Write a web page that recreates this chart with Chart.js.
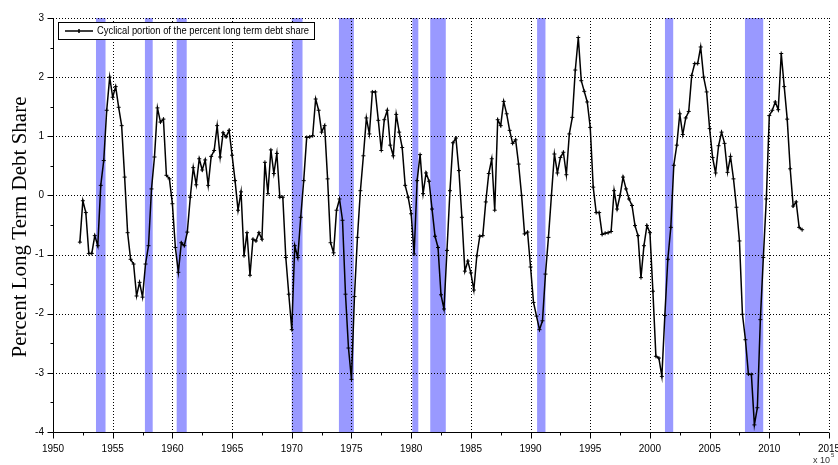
<!DOCTYPE html>
<html>
<head>
<meta charset="utf-8">
<script src="https://cdn.jsdelivr.net/npm/chart.js@4/dist/chart.umd.min.js"></script>
<style>
  html, body { margin: 0; padding: 0; background: #fff; }
  #chart { display: block; }
</style>
</head>
<body>
<canvas id="chart" width="838" height="465"></canvas>
<script>
// quarterly observations, first one is 1952 Q2
const startYear = 1952.25;
const debtShare = [
  -0.79, -0.09, -0.29,                 // 1952
  -0.98, -0.98, -0.68, -0.85,          // 1953
   0.17,  0.59,  1.44,  2.00,          // 1954
   1.66,  1.84,  1.49,  1.18,          // 1955
   0.31, -0.63, -1.08, -1.16,          // 1956
  -1.70, -1.47, -1.72, -1.16,          // 1957
  -0.85,  0.11,  0.65,  1.48,          // 1958
   1.24,  1.29,  0.34,  0.28,          // 1959
  -0.14, -0.88, -1.30, -0.80,          // 1960
  -0.85, -0.62, -0.03,  0.47,          // 1961
   0.18,  0.62,  0.43,  0.60,          // 1962
   0.17,  0.66,  0.76,  1.18,          // 1963
   0.65,  1.06,  0.99,  1.10,          // 1964
   0.68,  0.25, -0.25,  0.06,          // 1965
  -1.02, -0.63, -1.35, -0.74,          // 1966
  -0.77, -0.63, -0.74,  0.56,          // 1967
   0.03,  0.77,  0.37,  0.71,          // 1968
  -0.03, -0.03, -1.05, -1.67,          // 1969
  -2.27, -0.85, -1.05, -0.37,          // 1970
   0.25,  0.98,  0.99,  1.01,          // 1971
   1.63,  1.44,  1.07,  1.18,          // 1972
   0.28, -0.80, -0.97, -0.25,          // 1973
  -0.06, -0.42, -1.67, -2.58,          // 1974
  -3.11, -1.71, -0.71,  0.08,          // 1975
   0.67,  1.31,  1.04,  1.75,          // 1976
   1.75,  1.27,  0.76,  1.28,          // 1977
   1.44,  0.85,  0.67,  1.37,          // 1978
   1.07,  0.81,  0.17, -0.03,          // 1979
  -0.31, -0.99,  0.25,  0.69,          // 1980
   0.03,  0.38,  0.24, -0.23,          // 1981
  -0.69, -0.88, -1.68, -1.92,          // 1982
  -0.93,  0.08,  0.89,  0.97,          // 1983
   0.42, -0.37, -1.28, -1.11,          // 1984
  -1.31, -1.60, -1.02, -0.69,          // 1985
  -0.68, -0.11,  0.37,  0.62,          // 1986
  -0.25,  1.28,  1.18,  1.59,          // 1987
   1.38,  1.10,  0.88,  0.94,          // 1988
   0.53,  0.00, -0.65, -0.62,          // 1989
  -1.21, -1.81, -2.04, -2.27,          // 1990
  -2.12, -1.33, -0.71,  0.00,          // 1991
   0.70,  0.38,  0.64,  0.73,          // 1992
   0.35,  1.04,  1.32,  2.12,          // 1993
   2.67,  1.94,  1.76,  1.58,          // 1994
   1.15,  0.14, -0.29, -0.29,          // 1995
  -0.66, -0.64, -0.63, -0.61,          // 1996
   0.08, -0.23,  0.00,  0.31,          // 1997
   0.11, -0.06, -0.17, -0.51,          // 1998
  -0.68, -1.39, -0.85, -0.51,          // 1999
  -0.63, -1.62, -2.72, -2.75,          // 2000
  -3.06, -2.03, -1.08, -0.54,          // 2001
   0.51,  0.85,  1.38,  1.03,          // 2002
   1.31,  1.42,  2.03,  2.23,          // 2003
   2.23,  2.51,  2.00,  1.75,          // 2004
   1.13,  0.64,  0.38,  0.84,          // 2005
   1.07,  0.88,  0.39,  0.66,          // 2006
   0.28, -0.20, -0.77, -2.01,          // 2007
  -2.44, -3.02, -3.03, -3.88,          // 2008
  -3.59, -2.10, -1.05, -0.06,          // 2009
   1.35,  1.44,  1.58,  1.45,          // 2010
   2.40,  1.84,  1.29,  0.45,          // 2011
  -0.18, -0.11, -0.54, -0.58           // 2012
];

// shaded recessions, [start, end] in years
const recessions = [
  [1953.6, 1954.4], [1957.7, 1958.35], [1960.36, 1961.2], [1970.0, 1970.9],
  [1973.95, 1975.2], [1980.1, 1980.6], [1981.6, 1982.9], [1990.55, 1991.25],
  [2001.26, 2001.95], [2007.96, 2009.49]
];

const xTicks = [1950, 1955, 1960, 1965, 1970, 1975, 1980, 1985, 1990, 1995, 2000, 2005, 2010, 2015];
const yTicks = [-4, -3, -2, -1, 0, 1, 2, 3];
const seriesLabel = 'Cyclical portion of the percent long term debt share';
const yTitle = 'Percent Long Term Debt Share';

const points = debtShare.map((v, i) => ({ x: startYear + i / 4, y: v }));

const backdrop = {
  id: 'backdrop',
  beforeDatasetsDraw(chart) {
    const { ctx, chartArea: a, scales: { x, y } } = chart;
    ctx.save();
    // recession bars
    ctx.fillStyle = 'rgb(153,153,255)';
    recessions.forEach(([s, e]) => {
      const x0 = x.getPixelForValue(s), x1 = x.getPixelForValue(e);
      ctx.fillRect(x0, a.top, x1 - x0, a.bottom - a.top);
    });
    // dotted grid
    ctx.strokeStyle = '#000';
    ctx.lineWidth = 1;
    ctx.setLineDash([1, 2]);
    ctx.beginPath();
    xTicks.slice(1).forEach(t => {
      const px = Math.round(x.getPixelForValue(t)) + 0.5;
      ctx.moveTo(px, a.top); ctx.lineTo(px, a.bottom);
    });
    yTicks.slice(1).forEach(t => {
      const py = Math.round(y.getPixelForValue(t)) + 0.5;
      ctx.moveTo(a.left, py); ctx.lineTo(a.right, py);
    });
    ctx.stroke();
    ctx.setLineDash([]);
    // axes with ticks
    const lx = Math.round(a.left) + 0.5, by = Math.round(a.bottom) + 0.5;
    ctx.beginPath();
    ctx.moveTo(lx, a.top); ctx.lineTo(lx, by); ctx.lineTo(a.right, by);
    yTicks.forEach(t => {
      const py = Math.round(y.getPixelForValue(t)) + 0.5;
      ctx.moveTo(lx - 6, py); ctx.lineTo(lx, py);
      if (t < 3) {
        const pm = Math.round(y.getPixelForValue(t + 0.5)) + 0.5;
        ctx.moveTo(lx - 3, pm); ctx.lineTo(lx, pm);
      }
    });
    xTicks.forEach(t => {
      const px = Math.round(x.getPixelForValue(t)) + 0.5;
      ctx.moveTo(px, by); ctx.lineTo(px, by + 6);
      if (t < 2015) {
        const pm = Math.round(x.getPixelForValue(t + 2.5)) + 0.5;
        ctx.moveTo(pm, by); ctx.lineTo(pm, by + 3);
      }
    });
    ctx.stroke();
    ctx.restore();
  },
  afterDraw(chart) {
    const { ctx, chartArea: a } = chart;
    ctx.save();
    // legend box
    ctx.fillStyle = '#fff';
    ctx.strokeStyle = '#000';
    ctx.lineWidth = 1;
    ctx.fillRect(58.5, 22.5, 256, 17);
    ctx.strokeRect(58.5, 22.5, 256, 17);
    ctx.beginPath();
    ctx.lineWidth = 1.5;
    ctx.moveTo(65, 31); ctx.lineTo(93, 31);
    ctx.moveTo(79, 29); ctx.lineTo(79, 33);
    ctx.stroke();
    ctx.fillStyle = '#000';
    ctx.font = '10px "Liberation Sans", Arial, sans-serif';
    ctx.textBaseline = 'middle';
    ctx.fillText(seriesLabel, 97, 31.5, 212);
    // y title
    ctx.font = '21px "Liberation Serif", "Times New Roman", serif';
    ctx.textAlign = 'center';
    ctx.translate(20, (a.top + a.bottom) / 2 + 2);
    ctx.rotate(-Math.PI / 2);
    ctx.fillText(yTitle, 0, 0);
    ctx.restore();
    // exponent note bottom right
    ctx.save();
    ctx.fillStyle = '#333';
    ctx.font = '9px "Liberation Sans", Arial, sans-serif';
    ctx.fillText('x 10', 813, 463);
    ctx.font = '6px "Liberation Sans", Arial, sans-serif';
    ctx.fillText('5', 831, 457);
    ctx.restore();
  }
};

new Chart(document.getElementById('chart'), {
  type: 'line',
  data: {
    datasets: [{
      label: seriesLabel,
      data: points,
      borderColor: '#000',
      backgroundColor: '#000',
      borderWidth: 1.5,
      pointStyle: 'cross',
      pointRadius: 2,
      pointBorderWidth: 1,
      tension: 0
    }]
  },
  options: {
    responsive: false,
    devicePixelRatio: 1,
    animation: false,
    layout: { padding: { top: 18, right: 9, left: 0, bottom: 0 } },
    plugins: { legend: { display: false }, tooltip: { enabled: false } },
    scales: {
      x: {
        type: 'linear', min: 1950, max: 2015,
        afterBuildTicks: s => { s.ticks = xTicks.map(v => ({ value: v })); },
        afterFit: s => { s.height = 33; s.paddingLeft = 0; s.paddingRight = 0; },
        grid: { display: false, drawTicks: false },
        border: { display: false },
        ticks: {
          color: '#000', padding: 11, maxRotation: 0,
          font: { family: '"Liberation Sans", Arial, sans-serif', size: 10 },
          callback: v => String(v)
        }
      },
      y: {
        min: -4, max: 3,
        afterBuildTicks: s => { s.ticks = yTicks.map(v => ({ value: v })); },
        afterFit: s => { s.width = 53; s.paddingTop = 0; s.paddingBottom = 0; },
        grid: { display: false, drawTicks: false },
        border: { display: false },
        ticks: {
          color: '#000', padding: 9,
          font: { family: '"Liberation Sans", Arial, sans-serif', size: 10 },
          callback: v => String(v)
        }
      }
    }
  },
  plugins: [backdrop]
});
</script>
</body>
</html>
